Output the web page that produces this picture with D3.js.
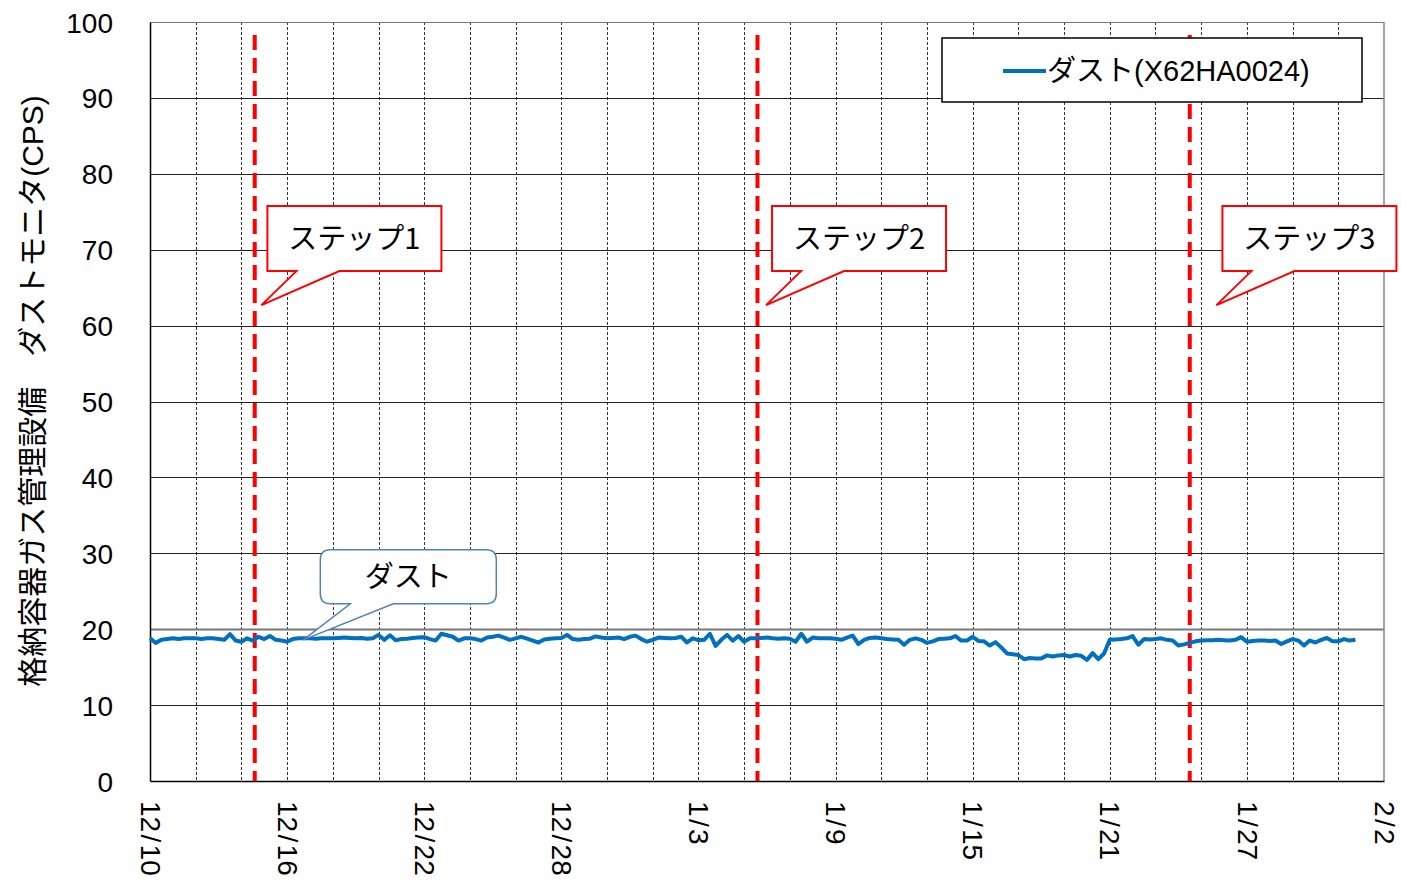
<!DOCTYPE html>
<html>
<head>
<meta charset="utf-8">
<script src="https://cdn.jsdelivr.net/npm/d3@7"></script>
<style>
  body { margin: 0; background: #fff; }
  text { font-family: "Liberation Sans", "Noto Sans CJK JP", sans-serif; fill: #000; }
  .jp { font-family: "Noto Sans CJK JP", sans-serif; }
</style>
</head>
<body>
<div id="chart"></div>
<script>
  // x axis labels (every 6 days)
  var tickLabels = ["12/10", "12/16", "12/22", "12/28", "1/3", "1/9", "1/15", "1/21", "1/27", "2/2"];
  var yTicks = [0, 10, 20, 30, 40, 50, 60, 70, 80, 90, 100];

  // dust monitor readings, one every 6 hours from 12/10 00:00
  var dust = [
    18.8, 18.2, 18.6, 18.7,   18.8, 18.7, 18.8, 18.8,   18.8, 18.7, 18.8, 18.8,
    18.7, 18.6, 19.35, 18.5,  18.35, 18.8, 18.5, 19.0,  18.7, 19.1, 18.6, 18.5,
    18.35, 18.7, 18.8, 18.8,  18.8, 18.75, 18.8, 18.8,  18.8, 18.85, 18.9, 18.85,
    18.8, 18.85, 18.75, 18.8, 19.25, 18.6, 19.2, 18.55, 18.7, 18.75, 18.85, 18.9,
    18.95, 18.7, 18.5, 19.4,  19.2, 19.0, 18.5, 18.8,   18.8, 18.7, 18.5, 18.9,
    19.0, 19.15, 18.9, 18.6,  18.8, 19.0, 18.75, 18.5,  18.25, 18.65, 18.75, 18.8,
    18.85, 19.25, 18.7, 18.6, 18.7, 18.75, 19.05, 18.9, 18.8, 18.85, 18.9, 18.7,
    19.0, 19.15, 18.7, 18.35, 18.6, 18.9, 18.85, 18.8, 18.85, 19.0, 18.25, 18.8,
    18.55, 18.6, 19.4, 17.8,  18.6, 19.25, 18.5, 19.1,  18.35, 18.8, 18.8, 18.85,
    18.9, 18.8, 18.75, 18.8,  18.75, 18.35, 19.4, 18.35, 18.9, 18.8, 18.8, 18.8,
    18.75, 18.6, 18.9, 19.15, 18.05, 18.6, 18.85, 18.9, 18.8, 18.7, 18.65, 18.6,
    17.95, 18.6, 18.8, 18.6,  18.2, 18.4, 18.7, 18.75,  18.8, 19.1, 18.5, 18.5,
    19.0, 18.45, 18.4, 17.85, 18.3, 17.6, 16.8, 16.7,   16.6, 16.05, 16.2, 16.15,
    16.15, 16.55, 16.4, 16.55, 16.6, 16.4, 16.6, 16.5,  15.95, 16.85, 16.05, 16.8,
    18.6, 18.65, 18.7, 18.8,  19.1, 17.95, 18.7, 18.65, 18.7, 18.8, 18.6, 18.5,
    17.85, 18.0, 18.2, 18.4,  18.5, 18.55, 18.55, 18.6, 18.55, 18.5, 18.6, 18.95,
    18.35, 18.45, 18.5, 18.5, 18.45, 18.5, 18.05, 18.4, 18.7, 18.5, 17.85, 18.5,
    18.25, 18.6, 18.85, 18.4, 18.4, 18.7, 18.5, 18.6
  ];

  // step boundaries and their callouts (tip = where the callout points)
  var stepNames = ["ステップ1", "ステップ2", "ステップ3"];
  var stepLines = ["12/14 14:00", "1/5 14:00", "1/24 12:00"];
  var stepTips = ["12/14 21:00", "1/5 23:00", "1/25 16:00"];
  var stepTipValue = 62.7;

  var seriesName = "ダスト(X62HA0024)";
  var dustTip = { date: "12/16 17:00", value: 18.6, label: "ダスト" };

  var width = 1401, height = 883;
  var plotL = 150, plotR = 1384, plotT = 22, plotB = 781;

  function parseMD(s) {
    var parts = s.split(" ");
    var md = parts[0].split("/");
    var hr = parts[1] ? +parts[1].split(":")[0] : 0;
    var m = +md[0];
    var year = m >= 12 ? 2019 : 2020;
    return new Date(Date.UTC(year, m - 1, +md[1], hr));
  }

  var start = parseMD(tickLabels[0]);
  var end = parseMD(tickLabels[tickLabels.length - 1]);
  var data = dust.map(function(v, i) {
    return { t: d3.utcHour.offset(start, i * 6), v: v };
  });

  var svg = d3.select("#chart").append("svg")
      .attr("width", width)
      .attr("height", height);

  var x = d3.scaleUtc().domain([start, end]).range([plotL, plotR]);
  var y = d3.scaleLinear().domain([0, 100]).range([plotB, plotT]);

  // vertical grid every 2 days
  var nDays = d3.utcDay.count(start, end);
  var gridDays = d3.range(2, nDays, 2).map(function(k) { return d3.utcDay.offset(start, k); });
  svg.append("g").selectAll("line")
      .data(gridDays)
    .enter().append("line")
      .attr("x1", function(d) { return Math.round(x(d)) + 0.5; })
      .attr("x2", function(d) { return Math.round(x(d)) + 0.5; })
      .attr("y1", plotT).attr("y2", plotB)
      .attr("stroke", "#333")
      .attr("stroke-width", 1)
      .attr("stroke-dasharray", "3,2");

  // horizontal grid
  svg.append("g").selectAll("line")
      .data(yTicks.filter(function(d) { return d > 0; }))
    .enter().append("line")
      .attr("x1", plotL).attr("x2", plotR)
      .attr("y1", function(d) { return Math.round(y(d)) + 0.5; })
      .attr("y2", function(d) { return Math.round(y(d)) + 0.5; })
      .attr("stroke", function(d) { return d == 100 || d == 20 ? "#777" : "#222"; })
      .attr("stroke-width", function(d) { return d == 20 ? 2 : 1; });

  // right border
  svg.append("line")
      .attr("x1", plotR).attr("x2", plotR).attr("y1", plotT).attr("y2", plotB)
      .attr("stroke", "#888").attr("stroke-width", 1.5);

  // axes
  var yAxis = svg.append("g")
      .attr("transform", "translate(" + plotL + ",0)")
      .call(d3.axisLeft(y).tickValues(yTicks).tickSize(0).tickPadding(37));
  yAxis.select(".domain").attr("stroke", "#000").attr("stroke-width", 1.5);
  yAxis.selectAll("text").style("font-size", "28px").attr("dy", "0.36em");

  var xAxis = svg.append("g")
      .attr("transform", "translate(0," + plotB + ")")
      .call(d3.axisBottom(x).tickValues(tickLabels.map(parseMD)).tickSize(0)
        .tickFormat(function(d, i) { return tickLabels[i].replace("/", "\u200a/\u200a"); }));
  xAxis.select(".domain").attr("stroke", "#000").attr("stroke-width", 1.5);
  xAxis.selectAll("text")
      .style("font-size", "28px")
      .attr("text-anchor", "start")
      .attr("transform", "rotate(90)")
      .attr("x", 20)
      .attr("y", 0)
      .attr("dy", "0.35em");

  // step lines
  svg.append("g").selectAll("line")
      .data(stepLines)
    .enter().append("line")
      .attr("x1", function(d) { return x(parseMD(d)); })
      .attr("x2", function(d) { return x(parseMD(d)); })
      .attr("y1", 35).attr("y2", plotB)
      .attr("stroke", "#ff0000")
      .attr("stroke-width", 4)
      .attr("stroke-dasharray", "15,8");

  // data line
  var line = d3.line()
      .x(function(d) { return x(d.t); })
      .y(function(d) { return y(d.v); });
  svg.append("path")
      .datum(data)
      .attr("d", line)
      .attr("fill", "none")
      .attr("stroke", "#0070c0")
      .attr("stroke-width", 4)
      .attr("stroke-linejoin", "round");

  // step callouts
  stepTips.forEach(function(t, i) {
    var tx = x(parseMD(t)), ty = y(stepTipValue);
    var bx = tx + 6, by = ty - 99, bw = 174, bh = 65;
    var g = svg.append("g");
    g.append("path")
      .attr("d", "M" + bx + "," + by + "H" + (bx + bw) + "V" + (by + bh) +
                 "H" + (bx + 72) + "L" + tx + "," + ty + "L" + (bx + 29) + "," + (by + bh) +
                 "H" + bx + "Z")
      .attr("fill", "#fff")
      .attr("stroke", "#ff0000")
      .attr("stroke-width", 2);
    g.append("text")
      .attr("class", "jp")
      .attr("x", bx + bw / 2)
      .attr("y", by + bh / 2)
      .attr("dy", "0.35em")
      .attr("text-anchor", "middle")
      .style("font-size", "29px")
      .text(stepNames[i]);
  });

  // dust callout
  (function() {
    var tx = x(parseMD(dustTip.date)), ty = y(dustTip.value);
    var bx = tx + 17, by = ty - 90, bw = 176, bh = 54, r = 10;
    var g = svg.append("g");
    g.append("path")
      .attr("d", "M" + (bx + r) + "," + by + "H" + (bx + bw - r) +
                 "Q" + (bx + bw) + "," + by + " " + (bx + bw) + "," + (by + r) +
                 "V" + (by + bh - r) +
                 "Q" + (bx + bw) + "," + (by + bh) + " " + (bx + bw - r) + "," + (by + bh) +
                 "H" + (bx + 73) + "L" + tx + "," + ty + "L" + (bx + 30) + "," + (by + bh) +
                 "H" + (bx + r) +
                 "Q" + bx + "," + (by + bh) + " " + bx + "," + (by + bh - r) +
                 "V" + (by + r) +
                 "Q" + bx + "," + by + " " + (bx + r) + "," + by + "Z")
      .attr("fill", "#fff")
      .attr("stroke", "#4f81bd")
      .attr("stroke-width", 1.5);
    g.append("text")
      .attr("class", "jp")
      .attr("x", bx + bw / 2)
      .attr("y", by + bh / 2)
      .attr("dy", "0.35em")
      .attr("text-anchor", "middle")
      .style("font-size", "29px")
      .text(dustTip.label);
  })();

  // legend
  var lg = svg.append("g").attr("transform", "translate(942,38)");
  lg.append("rect")
      .attr("width", 420).attr("height", 64)
      .attr("fill", "#fff").attr("stroke", "#000").attr("stroke-width", 1.5);
  lg.append("line")
      .attr("x1", 61).attr("x2", 104).attr("y1", 33).attr("y2", 33)
      .attr("stroke", "#0070c0").attr("stroke-width", 4);
  lg.append("text")
      .attr("x", 105).attr("y", 33).attr("dy", "0.35em")
      .style("font-size", "29px")
      .text(seriesName);

  // y axis title
  svg.append("text")
      .attr("transform", "translate(32,391) rotate(-90)")
      .attr("text-anchor", "middle")
      .attr("dy", "0.35em")
      .style("font-size", "30px")
      .text("格納容器ガス管理設備　ダストモニタ(CPS)");
</script>
</body>
</html>
